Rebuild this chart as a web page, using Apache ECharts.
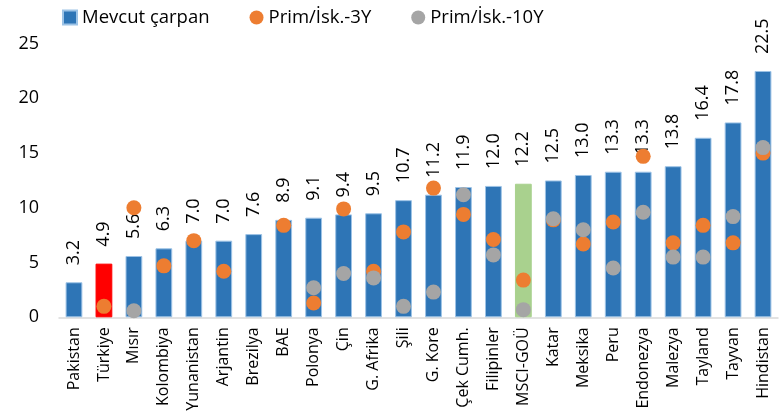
<!DOCTYPE html>
<html>
<head>
<meta charset="utf-8">
<script src="https://cdn.jsdelivr.net/npm/echarts@6/dist/echarts.min.js"></script>
<style>
	html, body { margin: 0; padding: 0; background: #fff; }
	#chart { width: 783px; height: 419px; }
</style>
</head>
<body>
<div id="chart"></div>
<script>
var countries = ['Pakistan', 'Türkiye', 'Mısır', 'Kolombiya', 'Yunanistan', 'Arjantin', 'Brezilya', 'BAE',
	'Polonya', 'Çin', 'G. Afrika', 'Şili', 'G. Kore', 'Çek Cumh.', 'Filipinler', 'MSCI-GOÜ', 'Katar',
	'Meksika', 'Peru', 'Endonezya', 'Malezya', 'Tayland', 'Tayvan', 'Hindistan'];
var currentMultiple = [3.2, 4.9, 5.6, 6.3, 7.0, 7.0, 7.6, 8.9, 9.1, 9.4, 9.5, 10.7, 11.2, 11.9, 12.0, 12.2,
	12.5, 13.0, 13.3, 13.3, 13.8, 16.4, 17.8, 22.5];
var prem3Y = [null, 1.0, 10.0, 4.7, 7.0, 4.2, null, 8.4, 1.3, 9.9, 4.2, 7.8, 11.8, 9.4, 7.1, 3.4,
	8.9, 6.7, 8.7, 14.7, 6.8, 8.4, 6.8, 15.0];
var prem10Y = [null, null, 0.6, null, null, null, null, null, 2.7, 4.0, 3.6, 1.0, 2.3, 11.2, 5.7, 0.7,
	9.0, 8.0, 4.5, 9.6, 5.5, 5.5, 9.2, 15.5];
var yTicks = [0, 5, 10, 15, 20, 25];

var highlight = {
	'Türkiye': '#ff0000',
	'MSCI-GOÜ': '#a9d18e'
};

function initChart() {
	var chart = echarts.init(document.getElementById('chart'));
	var barData = currentMultiple.map(function(v, i) {
		var item = { value: v };
		if (highlight[countries[i]]) {
			item.itemStyle = { color: highlight[countries[i]], borderColor: highlight[countries[i]] };
		}
		return item;
	});
	var font = '"Open Sans", sans-serif';
	var option = {
		animation: false,
		textStyle: { fontFamily: font },
		legend: {
			left: 57,
			top: 3,
			itemWidth: 14,
			itemHeight: 14,
			itemGap: 40,
			textStyle: { fontSize: 18.5, color: '#000', fontFamily: font },
			data: [
				{ name: 'Mevcut çarpan', icon: 'rect' },
				{ name: 'Prim/İsk.-3Y', icon: 'circle' },
				{ name: 'Prim/İsk.-10Y', icon: 'circle' }
			]
		},
		grid: {
			left: 59,
			right: 5,
			top: 43.6,
			bottom: 101.7
		},
		xAxis: {
			type: 'category',
			data: countries,
			axisLine: { lineStyle: { color: '#d9d9d9', width: 1.5 } },
			axisTick: { show: false },
			axisLabel: {
				interval: 0,
				rotate: 90,
				margin: 10,
				fontSize: 16,
				color: '#000',
				fontFamily: font
			}
		},
		yAxis: {
			type: 'value',
			min: yTicks[0],
			max: yTicks[yTicks.length - 1],
			interval: 5,
			splitLine: { show: false },
			axisLine: { show: false },
			axisTick: { show: false },
			axisLabel: { fontSize: 18, color: '#000', margin: 20, fontFamily: font }
		},
		series: [{
			name: 'Mevcut çarpan',
			type: 'bar',
			barWidth: '56%',
			itemStyle: { color: '#2e75b6', borderColor: '#9dc3e6', borderWidth: 1 },
			label: {
				show: true,
				position: 'top',
				rotate: 90,
				align: 'left',
				verticalAlign: 'middle',
				distance: 17,
				fontSize: 18,
				color: '#000',
				fontFamily: font,
				formatter: function(p) { return p.value.toFixed(1); }
			},
			data: barData
		}, {
			name: 'Prim/İsk.-3Y',
			type: 'scatter',
			symbolSize: 15,
			itemStyle: { color: '#ed7d31', opacity: 1 },
			data: prem3Y
		}, {
			name: 'Prim/İsk.-10Y',
			type: 'scatter',
			symbolSize: 15,
			itemStyle: { color: '#a5a5a5', opacity: 1 },
			data: prem10Y
		}]
	};
	chart.setOption(option);
}

initChart();
</script>
</body>
</html>
